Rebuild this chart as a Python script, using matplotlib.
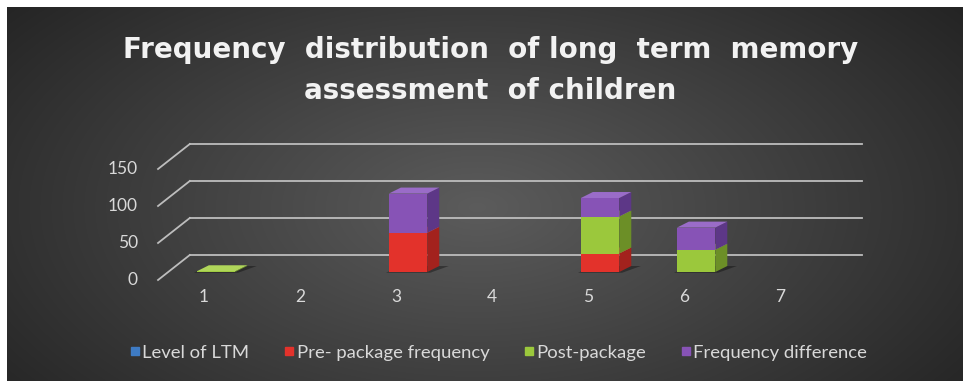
import numpy as np
import matplotlib.pyplot as plt
from matplotlib.patches import Polygon
from matplotlib.lines import Line2D

# data
categories = [1, 2, 3, 4, 5, 6, 7]
series_names = ['Level of LTM', 'Pre- package frequency', 'Post-package', 'Frequency difference']
level_ltm = [0, 0, 0, 0, 0, 0, 0]
pre_package = [0, 0, 53, 0, 25, 0, 0]
post_package = [1, 0, 0, 0, 50, 30, 0]
freq_difference = [0, 0, 53, 0, 25, 30, 0]
y_ticks = [0, 50, 100, 150]

# front / side / top colours for each series
face_colors = ['#3e7bc4', '#e3322b', '#9bc83c', '#8753b6']
side_colors = ['#2a5890', '#a3221d', '#6c8f27', '#5d3787']
top_colors = ['#5a93d6', '#ee5249', '#b0d65a', '#9a6cc8']

# oblique "3D" offsets in data units
WALL_DX, WALL_DY = 0.227, 23.0
EDGE_DX, EDGE_DY = -0.104, -10.8
BAR_DX, BAR_DY = 0.125, 8.1
BAR_W = 0.4
X_LEFT, X_RIGHT = 0.5, 7.5

plt.rcParams['font.family'] = ['Lato', 'DejaVu Sans']
fig = plt.figure(figsize=(9.63, 3.81), dpi=100)
fig.patch.set_facecolor('white')

# background panel with radial gradient
bg = fig.add_axes([7 / 963, 0, 956 / 963, 374 / 381])
yy, xx = np.mgrid[0:374, 0:956]
dist = np.sqrt(((xx - 470) / 560.0) ** 2 + ((yy - 200) / 300.0) ** 2)
shade = np.clip(0.36 - 0.2 * dist, 0.14, 0.36)
bg.imshow(np.dstack([shade, shade, shade]), aspect='auto', interpolation='bilinear')
bg.axis('off')

ax = fig.add_axes([0, 0, 1, 1])
ax.set_xlim(-1.25, 8.78)
ax.set_ylim(-147.3, 367.6)
ax.patch.set_alpha(0)
ax.axis('off')

grid_c = '#bdbdbd'
for v in y_ticks:
    ax.plot([X_LEFT + WALL_DX, X_RIGHT + WALL_DX], [v + WALL_DY, v + WALL_DY], color=grid_c, lw=1.3)
    ax.plot([X_LEFT + EDGE_DX, X_LEFT + WALL_DX], [v + EDGE_DY, v + WALL_DY], color=grid_c, lw=1.3)
    ax.text(X_LEFT + EDGE_DX - 0.21, v + EDGE_DY, str(v), ha='right', va='center',
            color='#d9d9d9', fontsize=12.5)

for k in categories:
    ax.text(k + EDGE_DX - 0.02, EDGE_DY - 23, str(k), ha='center', va='center', color='#d9d9d9', fontsize=12.5)

# soft shadows under bars
all_series = [level_ltm, pre_package, post_package, freq_difference]
totals = np.sum(all_series, axis=0)
for k, tot in zip(categories, totals):
    if tot <= 0:
        continue
    x0 = k - BAR_W / 2
    x1 = k + BAR_W / 2
    shadow = Polygon([(x0 - 0.03, -1), (x1 + 0.03, -1), (x1 + BAR_DX + 0.1, BAR_DY),
                      (x0 + BAR_DX, BAR_DY)], closed=True, color='black', alpha=0.35, lw=0)
    ax.add_patch(shadow)

# stacked bars: front face via ax.bar, side and top as polygons
bottoms = np.zeros(len(categories))
for i, vals in enumerate(all_series):
    vals = np.array(vals, dtype=float)
    ax.bar(categories, vals, bottom=bottoms, width=BAR_W, color=face_colors[i], lw=0, zorder=3)
    for k, b, h in zip(categories, bottoms, vals):
        if h <= 0:
            continue
        x0 = k - BAR_W / 2
        x1 = k + BAR_W / 2
        side = Polygon([(x1, b), (x1 + BAR_DX, b + BAR_DY), (x1 + BAR_DX, b + h + BAR_DY), (x1, b + h)],
                       closed=True, color=side_colors[i], lw=0, zorder=3)
        top = Polygon([(x0, b + h), (x1, b + h), (x1 + BAR_DX, b + h + BAR_DY), (x0 + BAR_DX, b + h + BAR_DY)],
                      closed=True, color=top_colors[i], lw=0, zorder=3)
        ax.add_patch(side)
        ax.add_patch(top)
    bottoms = bottoms + vals

fig.text(0.509, 0.814, 'Frequency  distribution  of long  term  memory\nassessment  of children',
         ha='center', va='center', color='#f2f2f2', fontsize=20, fontweight='bold', linespacing=1.6,
         family='DejaVu Sans')

handles = [Line2D([], [], marker='s', ls='none', markersize=6, markerfacecolor=c, markeredgecolor=c)
           for c in face_colors]
fig.legend(handles, series_names, loc='center', bbox_to_anchor=(0.518, 0.074), ncol=4, frameon=False,
           handlelength=0.5, handletextpad=0.15, columnspacing=1.9, fontsize=13.3, labelcolor='#d9d9d9')

fig.savefig('out.png', dpi=100)
